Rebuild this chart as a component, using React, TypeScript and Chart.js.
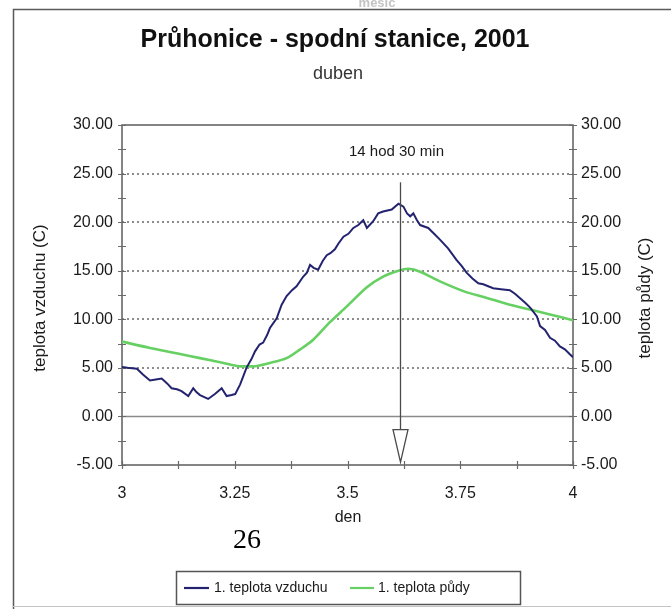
import React, { useEffect, useRef } from "react";
import { Chart, registerables } from "chart.js";

Chart.register(...registerables);

// ---- text ----
const chartTitle = "Průhonice - spodní stanice, 2001";
const chartSubtitle = "duben";
const xTitle = "den";
const yLeftTitle = "teplota vzduchu (C)";
const yRightTitle = "teplota půdy (C)";
const seriesNames = ["1. teplota vzduchu", "1. teplota půdy"];
const markerLabel = "14 hod 30 min";
const pageNumber = "26";
const topCutText = "měsíc";

// ---- data ----
const markerDay = 3.616;

const airX = [
  3.0, 3.012, 3.033, 3.047, 3.062, 3.075, 3.088, 3.1, 3.11, 3.122, 3.132, 3.147,
  3.158, 3.165, 3.173, 3.191, 3.206, 3.221, 3.232, 3.243, 3.251, 3.262, 3.276,
  3.287, 3.295, 3.305, 3.313, 3.322, 3.328, 3.343, 3.354, 3.365, 3.377, 3.387,
  3.402, 3.41, 3.417, 3.425, 3.435, 3.445, 3.454, 3.462, 3.472, 3.48, 3.491,
  3.502, 3.513, 3.524, 3.535, 3.543, 3.557, 3.568, 3.579, 3.598, 3.613, 3.624,
  3.632, 3.639, 3.646, 3.654, 3.661, 3.679, 3.692, 3.705, 3.723, 3.742, 3.753,
  3.764, 3.777, 3.79, 3.801, 3.812, 3.823, 3.84, 3.86, 3.872, 3.882, 3.894,
  3.905, 3.92, 3.927, 3.938, 3.949, 3.96, 3.971, 3.982, 3.993, 4.0,
];
const airY = [
  5.1, 5.0, 4.9, 4.3, 3.7, 3.8, 3.9, 3.4, 2.9, 2.8, 2.6, 2.1,
  2.9, 2.5, 2.2, 1.8, 2.3, 2.9, 2.1, 2.2, 2.3, 3.3, 5.0,
  5.9, 6.7, 7.4, 7.6, 8.4, 9.1, 10.1, 11.5, 12.4, 13.0, 13.4,
  14.4, 14.8, 15.6, 15.3, 15.1, 16.0, 16.6, 16.8, 17.2, 17.8, 18.5,
  18.8, 19.4, 19.7, 20.2, 19.4, 20.1, 20.9, 21.1, 21.3, 21.9, 21.6,
  20.9, 20.6, 20.9, 20.2, 19.7, 19.4, 18.8, 18.2, 17.3, 16.1, 15.5,
  14.8, 14.2, 13.7, 13.6, 13.4, 13.2, 13.1, 13.0, 12.6, 12.2, 11.7,
  11.2, 10.3, 9.3, 8.9, 8.1, 7.8, 7.2, 6.9, 6.4, 6.1,
];

const soilX = [
  3.0, 3.062, 3.121, 3.173, 3.225, 3.254, 3.276, 3.299, 3.328, 3.365, 3.395,
  3.424, 3.461, 3.498, 3.543, 3.579, 3.613, 3.635, 3.661, 3.705, 3.757, 3.809,
  3.86, 3.905, 3.949, 4.0,
];
const soilY = [
  7.7, 7.05, 6.5, 6.0, 5.5, 5.2, 5.15, 5.2, 5.5, 6.0, 6.9,
  7.9, 9.7, 11.3, 13.3, 14.4, 15.0, 15.2, 14.9, 13.9, 12.9, 12.2,
  11.5, 11.0, 10.5, 9.9,
];

const yMin = -5;
const yMax = 30;
const yStep = 5;
const yMinorStep = 2.5;
const dottedGridValues = [5, 10, 15, 20, 25];
const xMin = 3;
const xMax = 4;
const xStep = 0.25;
const xMinorStep = 0.125;

const FONT = '"Liberation Sans", Arial, Helvetica, sans-serif';
const AIR_COLOR = "#23236f";
const SOIL_COLOR = "#66d062";

const decorPlugin = {
  id: "decor",
  beforeDraw(chart: any) {
    const ctx = chart.ctx;
    ctx.save();
    // faint cut-off text at the very top
    ctx.fillStyle = "#c4c4c4";
    ctx.font = `bold 13px ${FONT}`;
    ctx.textAlign = "center";
    ctx.textBaseline = "middle";
    ctx.fillText(topCutText, 377, 3);
    // outer frame
    ctx.strokeStyle = "#5a5a5a";
    ctx.lineWidth = 1.5;
    ctx.beginPath();
    ctx.moveTo(13.5, 609);
    ctx.lineTo(13.5, 9.5);
    ctx.lineTo(671, 9.5);
    ctx.stroke();
    ctx.strokeStyle = "#c4c4c4";
    ctx.lineWidth = 1;
    ctx.beginPath();
    ctx.moveTo(13, 606.5);
    ctx.lineTo(671, 606.5);
    ctx.stroke();
    ctx.restore();
  },
  beforeDatasetsDraw(chart: any) {
    const { ctx, chartArea } = chart;
    const { left, right, top, bottom } = chartArea;
    const x = chart.scales.x;
    const y = chart.scales.y;
    ctx.save();
    // dotted gridlines
    ctx.strokeStyle = "#8d8d8d";
    ctx.lineWidth = 2;
    ctx.setLineDash([2, 3]);
    for (const v of dottedGridValues) {
      const py = Math.round(y.getPixelForValue(v));
      ctx.beginPath();
      ctx.moveTo(left, py);
      ctx.lineTo(right, py);
      ctx.stroke();
    }
    ctx.setLineDash([]);
    // zero line
    ctx.strokeStyle = "#8a8a8a";
    ctx.lineWidth = 1.5;
    const p0 = Math.round(y.getPixelForValue(0)) + 0.5;
    ctx.beginPath();
    ctx.moveTo(left, p0);
    ctx.lineTo(right, p0);
    ctx.stroke();
    // plot frame
    ctx.strokeStyle = "#5c5c5c";
    ctx.lineWidth = 1.5;
    ctx.strokeRect(left, top, right - left, bottom - top);
    // y ticks (both axes)
    ctx.strokeStyle = "#6a6a6a";
    ctx.lineWidth = 1.2;
    for (let v = yMin; v <= yMax + 1e-9; v += yMinorStep) {
      const py = Math.round(y.getPixelForValue(v)) + 0.5;
      ctx.beginPath();
      ctx.moveTo(left - 4, py);
      ctx.lineTo(left + 4, py);
      ctx.moveTo(right - 4, py);
      ctx.lineTo(right + 4, py);
      ctx.stroke();
    }
    // x ticks
    for (let v = xMin; v <= xMax + 1e-9; v += xMinorStep) {
      const px = Math.round(x.getPixelForValue(v)) + 0.5;
      ctx.beginPath();
      ctx.moveTo(px, bottom - 4);
      ctx.lineTo(px, bottom + 4);
      ctx.stroke();
    }
    ctx.restore();
  },
  afterDatasetsDraw(chart: any) {
    const ctx = chart.ctx;
    const x = chart.scales.x;
    const y = chart.scales.y;
    ctx.save();
    const mx = Math.round(x.getPixelForValue(markerDay)) + 0.5;
    const lineTop = y.getPixelForValue(24.1);
    const arrowTop = y.getPixelForValue(-1.35);
    const arrowTip = y.getPixelForValue(-4.7);
    ctx.strokeStyle = "#4a4a4a";
    ctx.lineWidth = 1.3;
    ctx.beginPath();
    ctx.moveTo(mx, lineTop);
    ctx.lineTo(mx, arrowTop);
    ctx.stroke();
    ctx.beginPath();
    ctx.moveTo(mx - 7.5, arrowTop);
    ctx.lineTo(mx + 7.5, arrowTop);
    ctx.lineTo(mx, arrowTip);
    ctx.closePath();
    ctx.fillStyle = "#ffffff";
    ctx.fill();
    ctx.stroke();
    // marker label
    ctx.fillStyle = "#1a1a1a";
    ctx.font = `15px ${FONT}`;
    ctx.textAlign = "center";
    ctx.textBaseline = "middle";
    ctx.fillText(markerLabel, mx - 4, y.getPixelForValue(27.2));
    ctx.restore();
  },
  afterDraw(chart: any) {
    const ctx = chart.ctx;
    ctx.save();
    ctx.textAlign = "center";
    ctx.textBaseline = "middle";
    // title
    ctx.fillStyle = "#111";
    ctx.font = `bold 25px ${FONT}`;
    ctx.fillText(chartTitle, 335, 40);
    ctx.fillStyle = "#333";
    ctx.font = `18px ${FONT}`;
    ctx.fillText(chartSubtitle, 338, 74);
    // axis titles
    ctx.fillStyle = "#1a1a1a";
    ctx.font = `16px ${FONT}`;
    ctx.fillText(xTitle, 348, 518);
    ctx.font = `17px ${FONT}`;
    ctx.save();
    ctx.translate(40, 298);
    ctx.rotate(-Math.PI / 2);
    ctx.fillText(yLeftTitle, 0, 0);
    ctx.restore();
    ctx.save();
    ctx.translate(645, 298);
    ctx.rotate(-Math.PI / 2);
    ctx.fillText(yRightTitle, 0, 0);
    ctx.restore();
    // page number
    ctx.fillStyle = "#000";
    ctx.font = `28px "Liberation Serif", "Times New Roman", serif`;
    ctx.fillText(pageNumber, 247, 541);
    // legend
    ctx.strokeStyle = "#555";
    ctx.lineWidth = 1.5;
    ctx.strokeRect(176.5, 571.5, 344, 33);
    const ly = 588;
    ctx.lineWidth = 2.2;
    ctx.strokeStyle = AIR_COLOR;
    ctx.beginPath();
    ctx.moveTo(184, ly);
    ctx.lineTo(209, ly);
    ctx.stroke();
    ctx.strokeStyle = SOIL_COLOR;
    ctx.beginPath();
    ctx.moveTo(350, ly);
    ctx.lineTo(374, ly);
    ctx.stroke();
    ctx.fillStyle = "#1a1a1a";
    ctx.font = `14px ${FONT}`;
    ctx.textAlign = "left";
    ctx.fillText(seriesNames[0], 214, ly);
    ctx.fillText(seriesNames[1], 378, ly);
    ctx.restore();
  },
};

export default function App() {
  const canvasRef = useRef<HTMLCanvasElement | null>(null);

  useEffect(() => {
    if (!canvasRef.current) return;
    const airData = airX.map((v, i) => ({ x: v, y: airY[i] }));
    const soilData = soilX.map((v, i) => ({ x: v, y: soilY[i] }));
    const tickFont = { family: FONT, size: 16 };
    const chart = new Chart(canvasRef.current, {
      type: "scatter",
      data: {
        datasets: [
          {
            label: seriesNames[0],
            data: airData,
            yAxisID: "y",
            showLine: true,
            borderColor: AIR_COLOR,
            borderWidth: 2,
            pointRadius: 0,
            tension: 0,
          },
          {
            label: seriesNames[1],
            data: soilData,
            yAxisID: "y2",
            showLine: true,
            borderColor: SOIL_COLOR,
            borderWidth: 2.6,
            pointRadius: 0,
            tension: 0.3,
          },
        ],
      },
      options: {
        animation: false,
        responsive: false,
        devicePixelRatio: 1,
        layout: { padding: { top: 125, bottom: 44, left: 0, right: 0 } },
        plugins: {
          legend: { display: false },
          title: { display: false },
          tooltip: { enabled: false },
        },
        scales: {
          x: {
            type: "linear",
            min: xMin,
            max: xMax,
            grid: { display: false, drawTicks: false },
            border: { display: false },
            ticks: {
              stepSize: xStep,
              color: "#1a1a1a",
              font: tickFont,
              padding: 19,
              callback: (v: any) => String(Number(Number(v).toFixed(3))),
            },
            afterFit: (s: any) => {
              s.height = 100;
            },
          },
          y: {
            type: "linear",
            position: "left",
            min: yMin,
            max: yMax,
            grid: { display: false, drawTicks: false },
            border: { display: false },
            ticks: {
              stepSize: yStep,
              color: "#1a1a1a",
              font: tickFont,
              padding: 9,
              callback: (v: any) => Number(v).toFixed(2),
            },
            afterFit: (s: any) => {
              s.width = 122;
            },
          },
          y2: {
            type: "linear",
            position: "right",
            min: yMin,
            max: yMax,
            grid: { display: false, drawTicks: false },
            border: { display: false },
            ticks: {
              stepSize: yStep,
              color: "#1a1a1a",
              font: tickFont,
              padding: 8,
              callback: (v: any) => Number(v).toFixed(2),
            },
            afterFit: (s: any) => {
              s.width = 98;
            },
          },
        },
      },
      plugins: [decorPlugin],
    } as any);
    return () => chart.destroy();
  }, []);

  return (
    <div style={{ position: "absolute", left: 0, top: 0, width: 671, height: 609, background: "#fff" }}>
      <canvas ref={canvasRef} width={671} height={609} style={{ display: "block" }} />
    </div>
  );
}
